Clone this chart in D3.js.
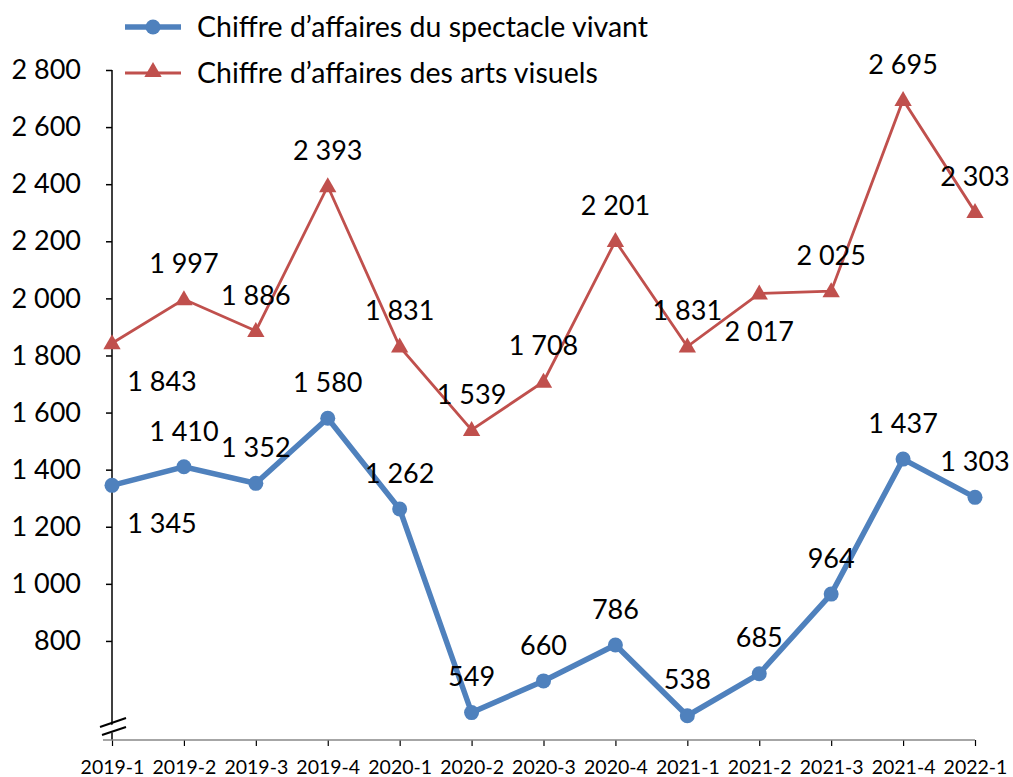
<!DOCTYPE html>
<html>
<head>
<meta charset="utf-8">
<script src="https://cdn.jsdelivr.net/npm/d3@7"></script>
<style>
  body { margin: 0; background: #fff; }
  text { font-family: Lato, "Open Sans", sans-serif; fill: #000; }
</style>
</head>
<body>
<div id="chart"></div>
<script>
// data
var periods = ["2019-1", "2019-2", "2019-3", "2019-4", "2020-1", "2020-2", "2020-3",
  "2020-4", "2021-1", "2021-2", "2021-3", "2021-4", "2022-1"];
var spectacleVivant = [1345, 1410, 1352, 1580, 1262, 549, 660, 786, 538, 685, 964, 1437, 1303];
var artsVisuels = [1843, 1997, 1886, 2393, 1831, 1539, 1708, 2201, 1831, 2017, 2025, 2695, 2303];
var yTicks = [800, 1000, 1200, 1400, 1600, 1800, 2000, 2200, 2400, 2600, 2800];
var seriesNames = ["Chiffre d\u2019affaires du spectacle vivant", "Chiffre d\u2019affaires des arts visuels"];

// where each value label sits relative to its point
var placeBlue = ["belowRight", "above", "above", "above", "above", "above", "above",
  "above", "above", "above", "above", "above", "above"];
var placeRed = ["belowRight", "above", "above", "above", "above", "above", "above",
  "above", "above", "below", "above", "above", "above"];

var W = 1013, H = 777;
var plot = { left: 112, right: 975, top: 70, bottom: 740 };

var svg = d3.select("#chart").append("svg")
  .attr("width", W)
  .attr("height", H);

var x = d3.scalePoint().domain(periods).range([plot.left, plot.right]);
var y = d3.scaleLinear().domain([453, 2800]).range([plot.bottom, plot.top]);

var fmt = function (v) {
  return d3.format(",")(v).replace(/,/g, "\u00a0");
};

// y axis
var yAxis = d3.axisLeft(y).tickValues(yTicks).tickSize(6).tickPadding(25).tickFormat(fmt);
var yg = svg.append("g").attr("transform", "translate(" + plot.left + ",0)").call(yAxis);
yg.select(".domain").remove();
yg.append("line").attr("x1", 0).attr("x2", 0).attr("y1", plot.top).attr("y2", plot.bottom)
  .attr("stroke", "#000").attr("stroke-width", 1.5);
yg.selectAll(".tick line").attr("stroke", "#000").attr("stroke-width", 1.5);
yg.selectAll(".tick text").style("font-size", "27px").attr("fill", "#000");

// x axis
var xAxis = d3.axisBottom(x).tickSize(6).tickPadding(14);
var xg = svg.append("g").attr("transform", "translate(0," + plot.bottom + ")").call(xAxis);
xg.select(".domain").remove();
xg.append("line").attr("x1", plot.left - 9).attr("x2", plot.right).attr("y1", 0).attr("y2", 0)
  .attr("stroke", "#888").attr("stroke-width", 1.5);
xg.selectAll(".tick line").attr("stroke", "#000").attr("stroke-width", 1.2);
xg.selectAll(".tick text").style("font-size", "19.5px").attr("fill", "#000");

// axis break mark
svg.append("polygon")
  .attr("points", [[100, 729], [126, 720], [126, 728], [100, 737]].join(" "))
  .attr("fill", "#fff");
[[100, 727, 126, 718], [102, 735, 126, 727]].forEach(function (s) {
  svg.append("line").attr("x1", s[0]).attr("y1", s[1]).attr("x2", s[2]).attr("y2", s[3])
    .attr("stroke", "#000").attr("stroke-width", 2);
});

var line = d3.line().x(function (d, i) { return x(periods[i]); }).y(function (d) { return y(d); });

// red series
var blue = "#4F81BD", red = "#C0504D";
svg.append("path").datum(artsVisuels).attr("d", line)
  .attr("fill", "none").attr("stroke", red).attr("stroke-width", 2.8);
var tri = d3.symbol().type(d3.symbolTriangle).size(130);
svg.selectAll(".tri").data(artsVisuels).enter().append("path")
  .attr("d", tri)
  .attr("transform", function (d, i) { return "translate(" + x(periods[i]) + "," + (y(d) + 1) + ")"; })
  .attr("fill", red);

// blue series
svg.append("path").datum(spectacleVivant).attr("d", line)
  .attr("fill", "none").attr("stroke", blue).attr("stroke-width", 5.5);
svg.selectAll(".dot").data(spectacleVivant).enter().append("circle")
  .attr("cx", function (d, i) { return x(periods[i]); })
  .attr("cy", function (d) { return y(d); })
  .attr("r", 7.5)
  .attr("fill", blue);

function offset(p) {
  if (p === "above") return [0, -36];
  if (p === "below") return [0, 38];
  return [50, 38];
}

function labels(data, place) {
  svg.append("g").selectAll("text").data(data).enter().append("text")
    .attr("x", function (d, i) { return x(periods[i]) + offset(place[i])[0]; })
    .attr("y", function (d, i) { return y(d) + offset(place[i])[1]; })
    .attr("dy", "0.36em")
    .attr("text-anchor", "middle")
    .style("font-size", "27px")
    .text(fmt);
}
labels(artsVisuels, placeRed);
labels(spectacleVivant, placeBlue);

// legend
var leg = svg.append("g");
leg.append("line").attr("x1", 125).attr("x2", 181).attr("y1", 27).attr("y2", 27)
  .attr("stroke", blue).attr("stroke-width", 5.5);
leg.append("circle").attr("cx", 153).attr("cy", 27).attr("r", 7.5).attr("fill", blue);
leg.append("line").attr("x1", 125).attr("x2", 181).attr("y1", 73).attr("y2", 73)
  .attr("stroke", red).attr("stroke-width", 2.8);
leg.append("path").attr("d", tri).attr("transform", "translate(153,72)").attr("fill", red);
leg.selectAll("text").data(seriesNames).enter().append("text")
  .attr("x", 197)
  .attr("y", function (d, i) { return 27 + i * 46; })
  .attr("dy", "0.36em")
  .style("font-size", "28.5px")
  .text(function (d) { return d; });
</script>
</body>
</html>
